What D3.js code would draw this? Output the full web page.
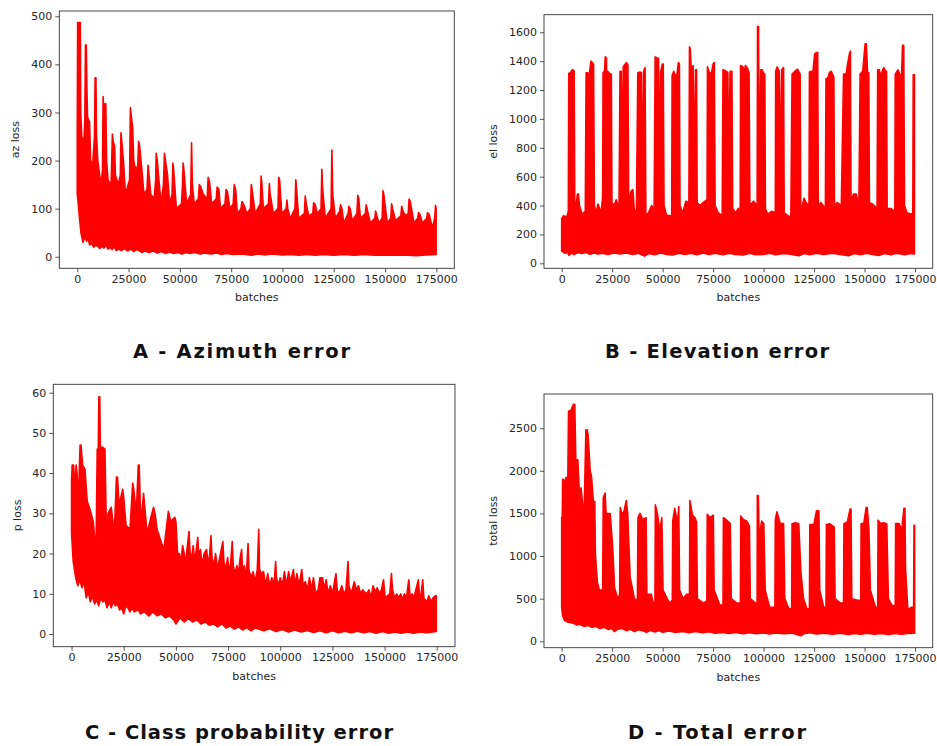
<!DOCTYPE html>
<html>
<head>
<meta charset="utf-8">
<script src="https://cdn.jsdelivr.net/npm/d3@7"></script>
<style>
  body { margin: 0; background: #fff; }
  svg { display: block; }
</style>
</head>
<body>
<svg id="fig" width="937" height="746"></svg>
<script>
// upper / lower envelopes of each noisy loss curve, [batch, loss]
var azHi = [[0,255],[200,487],[1500,487],[1700,300],[2200,250],[3300,240],[3700,290],[4000,440],[4400,440],[4700,350],[5000,290],[6000,280],[6500,200],[7500,190],[8400,250],[8700,372],[9100,372],[9400,250],[10000,200],[11500,150],[12300,180],[12600,333],[13000,300],[13500,318],[13900,318],[14300,200],[15000,160],[16500,150],[16800,200],[17100,255],[17500,240],[18200,230],[18600,170],[20000,150],[21000,170],[21300,258],[21700,240],[22500,200],[23500,130],[25500,160],[25900,310],[26400,290],[27000,270],[27500,200],[28500,180],[29500,190],[29900,240],[30400,230],[31500,180],[32500,130],[34000,140],[34500,190],[35000,170],[35800,130],[37500,120],[38200,160],[38500,215],[39000,200],[40000,150],[40800,110],[42000,150],[42500,215],[43000,200],[44000,170],[45000,110],[46200,130],[46600,195],[47000,180],[48300,100],[50800,110],[51300,150],[51600,195],[52000,180],[53300,110],[55300,130],[55700,237],[56100,150],[57000,110],[59000,120],[59500,150],[60200,145],[61400,130],[63300,120],[63800,165],[64500,155],[65500,110],[67700,120],[68200,145],[69000,140],[69800,100],[72000,110],[72500,140],[73200,135],[74400,100],[76000,110],[76500,150],[77200,140],[78000,90],[79800,100],[80300,115],[81500,105],[82600,90],[84400,100],[84800,150],[85200,140],[86700,90],[89200,110],[89600,168],[90000,150],[90700,100],[93200,110],[93600,152],[94000,130],[95600,90],[97800,100],[98200,165],[98600,160],[99700,90],[101800,100],[102200,118],[102600,100],[103800,80],[106100,100],[106500,160],[106900,140],[107900,80],[110700,90],[111100,126],[111600,110],[112800,85],[114800,90],[115200,112],[116000,108],[116900,90],[118800,100],[119200,182],[119600,140],[120900,80],[123700,100],[124100,222],[124500,130],[125800,80],[127900,95],[128300,108],[129000,100],[129900,70],[132000,90],[132400,105],[133000,100],[134000,75],[136300,90],[136700,128],[137200,120],[138000,80],[140400,90],[140800,108],[141500,95],[142900,70],[145000,80],[145400,95],[146000,85],[147000,70],[148600,80],[149000,137],[149400,130],[151100,70],[152800,80],[153200,110],[153700,100],[155100,75],[157700,85],[158100,105],[158700,95],[160100,85],[161300,90],[161700,120],[162300,115],[164100,70],[165900,80],[166300,92],[167000,88],[168200,70],[170300,80],[170700,92],[171500,88],[173100,60],[174200,80],[174600,107],[174900,100]];
var azLo = [[0,130],[500,110],[1000,85],[1800,50],[2800,30],[3500,38],[4000,40],[4600,32],[5000,45],[6000,25],[7000,28],[8000,20],[9000,24],[10000,22],[11000,17],[12000,22],[13000,18],[14000,24],[15000,16],[16000,20],[17000,15],[18000,21],[19000,13],[20000,16],[21500,13],[23000,17],[24500,12],[26000,16],[27500,11],[29000,15],[30000,13],[31500,9],[33000,12],[35000,9],[37000,12],[39000,8],[41000,11],[43000,7],[45000,10],[47000,7],[49000,9],[51000,6],[53000,9],[55000,7],[57000,9],[60000,6],[62000,8],[65000,6],[68000,8],[70000,5],[73000,7],[76000,5],[80000,6],[85000,3],[88000,6],[91000,4],[95000,6],[100000,4],[104000,5],[108000,3],[112000,5],[116000,3],[120000,5],[125000,3],[130000,5],[135000,3],[140000,5],[145000,3],[150000,4],[155000,3],[160000,4],[165000,2],[170000,4],[174900,5]];

var elHi = [[0,310],[1000,330],[2500,320],[3300,360],[3500,1315],[4300,1320],[5200,1340],[5600,1340],[6200,1330],[6500,400],[7300,420],[7800,480],[8300,480],[8800,400],[10000,340],[11700,360],[12100,1320],[12900,1320],[13300,500],[13700,1310],[14500,1400],[15200,1390],[15800,1380],[16200,400],[17000,350],[18000,410],[19500,350],[20300,460],[20500,1320],[21200,1330],[21600,1430],[22200,1420],[22500,600],[22800,1330],[24000,1310],[24600,1310],[24900,420],[26000,400],[27000,440],[28400,380],[28900,1330],[29500,1330],[30000,600],[30500,1360],[31500,1380],[32000,1390],[32800,1375],[33200,420],[34400,500],[35300,510],[35900,380],[37000,330],[37700,1320],[38800,1325],[39500,1320],[40200,500],[40600,1330],[41300,1355],[41700,330],[43000,350],[44500,400],[45800,380],[46300,1430],[47400,1420],[48000,1420],[48500,420],[49000,1320],[49800,1380],[50300,1380],[50700,400],[52000,330],[54500,330],[54700,1300],[55500,1330],[56300,1300],[57000,1295],[57800,1390],[58300,1380],[58600,400],[60000,350],[61500,430],[63000,420],[63300,1500],[63700,1480],[64200,1330],[65100,1370],[65600,600],[66300,1340],[66800,1340],[67100,420],[68500,400],[70000,420],[72000,440],[72200,1360],[73200,1320],[74200,1320],[75000,1380],[75600,1390],[76000,400],[77500,350],[79500,330],[79900,1340],[81000,1335],[82300,1320],[82700,600],[83400,1330],[84300,1330],[84700,380],[86000,350],[87500,380],[88400,350],[88600,1370],[89800,1360],[90400,1320],[91000,1370],[92000,1350],[92800,1320],[93200,400],[95000,430],[96800,400],[97000,1640],[97500,1640],[97900,400],[98600,1340],[99300,1340],[99900,1320],[100600,1310],[100900,380],[102000,340],[104000,360],[105800,350],[106000,1330],[106700,1360],[107800,1330],[108500,600],[109000,1340],[109900,1355],[110200,350],[112000,330],[113500,320],[114100,1310],[115500,1330],[116800,1345],[117700,1320],[118100,1310],[118400,350],[120000,450],[121000,420],[122500,400],[122700,1325],[123700,1330],[124400,1320],[125300,1450],[126300,1460],[126800,1460],[127100,400],[128500,420],[130600,380],[130900,1280],[131700,1280],[132600,1320],[133500,1330],[134800,1290],[135100,400],[136500,420],[138500,400],[139600,1310],[140900,1310],[141500,1370],[142500,1450],[143000,1470],[143300,420],[144500,480],[145800,480],[147200,400],[147800,1310],[149100,1330],[150300,1520],[150900,1520],[151500,1320],[152100,1320],[152400,420],[154000,410],[156200,380],[156500,1340],[157300,1340],[158000,1300],[159500,1355],[160400,1330],[160900,1330],[161200,380],[163000,380],[165000,360],[165200,1310],[166500,1340],[167800,1300],[168300,1280],[168800,1510],[169400,1510],[169800,400],[171000,350],[173000,340],[173900,350],[174100,1305],[174700,1305]];
var elLo = [[0,85],[1500,70],[3000,75],[3500,55],[5000,72],[6000,60],[8000,75],[10000,68],[12000,75],[14000,62],[16000,72],[18000,64],[20000,70],[23000,62],[26000,72],[29000,64],[32000,72],[35000,62],[38000,70],[41000,50],[43000,68],[46000,60],[49000,72],[52000,62],[55000,58],[58000,70],[61000,62],[64000,70],[67000,60],[70000,72],[73000,62],[76000,70],[80000,60],[83000,70],[86000,62],[90000,58],[93000,70],[96000,60],[100000,62],[103000,70],[106000,60],[110000,68],[114000,62],[117500,52],[120000,68],[123000,60],[126000,70],[130000,62],[134000,70],[138000,62],[142000,52],[145000,68],[148000,60],[151000,70],[154000,62],[157000,55],[160000,68],[163000,60],[166000,70],[170000,60],[172500,68],[174700,65]];

var pHi = [[0,38],[300,42],[1000,42],[1600,36],[2200,42],[2600,40],[3300,34],[4100,47],[4500,47],[5300,42],[6400,41],[7500,33],[8800,31],[10400,28],[11700,20],[12300,46],[12800,46],[13100,59],[13500,59],[14000,37],[14500,46.5],[16000,46],[16700,25],[17500,30],[19000,31.5],[20500,25],[21500,39],[22000,39],[22800,32],[24500,36],[25000,34],[26100,27],[28000,26],[29300,37.5],[29800,36],[31000,30],[32000,42],[32400,42],[33200,27],[34500,35],[35000,32],[36200,25],[38000,29],[39300,31.5],[40000,30],[41000,26],[43500,22],[44000,20],[46400,30.5],[47500,28],[49500,29],[50000,28],[50800,20],[51700,20],[52500,18],[53200,22],[54000,20],[54600,17],[55300,21],[56300,25.5],[56800,20],[57500,19],[58300,22],[59000,18],[60500,24],[61000,19],[61800,21],[62500,17],[63500,20],[64700,21],[65500,17],[66200,20],[66800,24.5],[67300,19],[68200,17],[69000,20],[70000,16],[71000,19],[72500,23],[73000,18],[73800,16],[74800,19],[75500,15],[76300,18],[77000,23],[77500,17],[78300,15],[79200,17],[80000,15],[80800,19],[81500,21],[82000,15],[82800,17],[83700,14],[84600,22.5],[85000,16],[86000,14],[87000,15.5],[88000,13],[89000,16],[89700,26],[90100,16],[91000,15],[92000,15.5],[93000,12],[94000,15],[95000,12],[96000,14],[97000,12],[97800,18],[98200,14],[99000,12],[100000,14],[101000,12],[102000,15.5],[103000,12],[104000,15.5],[105000,13],[106300,16],[107000,12],[108000,15],[109000,12],[110300,16],[111000,12],[112000,13],[113000,11],[114000,14],[115000,11],[115900,14],[117000,10],[118200,11],[119000,14],[120300,14],[121000,11],[122000,13.5],[123000,10],[124000,12],[125000,10],[126700,15],[127300,11],[128200,10],[129500,12],[130500,10],[131500,11],[132500,18],[132900,12],[134000,10],[135500,13],[136500,11],[137500,12],[138500,10],[139500,11],[140300,10.5],[141500,10],[142500,11],[143500,9],[144500,12],[145500,10.5],[146500,11.5],[147500,10],[148500,11],[149500,13.5],[150300,9],[151400,9.5],[152500,10],[153300,15],[153800,11],[154800,9],[155800,10],[156800,9],[157700,10],[158600,8.5],[159500,10],[160500,9],[161600,13.5],[162300,9],[163200,10],[164000,9],[165000,11],[166200,13.5],[166800,9],[167500,10],[168300,13.5],[168800,9],[169500,8.5],[170300,8],[171200,9.5],[172200,8],[173200,9],[174300,9.5],[174800,9.5]];
var pLo = [[0,25],[800,18],[2000,14],[3000,12],[4000,13.5],[5000,11.5],[6000,13],[7000,9],[8000,10.5],[9000,8],[10000,9.5],[11000,7.5],[12000,8.5],[13000,7],[14000,9],[15000,8],[16000,8.5],[17000,6.5],[18000,8],[19000,6.5],[20000,8],[21000,7],[22000,7.5],[23000,6],[24000,6.5],[25000,5],[26000,7],[27000,6.5],[28000,5.5],[29000,6.5],[30000,5.5],[32000,6],[33000,5],[35000,5.5],[37000,4.5],[39000,5.5],[41000,4.5],[43000,5],[45000,4],[47000,4.5],[49000,3.5],[50000,2.5],[52000,4],[54000,3],[56000,3.8],[58000,3],[60000,3.5],[62000,2.5],[64000,3],[66000,2.2],[68000,2.5],[70000,1.8],[72000,2.5],[74000,1.5],[76000,2],[78000,1.2],[80000,1.8],[82000,1],[84000,1.6],[86000,0.8],[88000,1.5],[90000,1.2],[92000,0.8],[95000,1.3],[98000,0.6],[101000,1.1],[104000,0.5],[107000,1],[110000,0.5],[113000,0.9],[116000,0.4],[119000,0.8],[122000,0.3],[125000,0.8],[128000,0.3],[131000,0.7],[134000,0.3],[137000,0.7],[140000,0.3],[143000,0.6],[146000,0.2],[149000,0.6],[152000,0.2],[155000,0.5],[158000,0.2],[161000,0.5],[164000,0.2],[167000,0.5],[170000,0.3],[174800,0.6]];

var totHi = [[0,1450],[300,1460],[500,1900],[1000,1900],[1300,1780],[2100,1920],[2500,1920],[2800,1350],[3400,2700],[4600,2710],[5800,2780],[6500,2780],[7000,2130],[8000,2130],[8800,1720],[9600,1800],[10400,1600],[11200,1590],[12000,2480],[12600,2480],[13100,2420],[14100,2000],[14800,1930],[15700,1640],[16400,1640],[16700,1020],[17700,690],[18700,600],[20300,600],[20600,1680],[21500,1740],[22000,1500],[24000,1500],[25200,1130],[26200,630],[27700,500],[28700,550],[29000,1570],[29800,1500],[30700,1510],[32000,1650],[32700,1500],[33900,750],[35200,600],[36000,500],[37500,480],[37800,1450],[38800,1500],[40100,1430],[41800,1450],[42200,550],[44400,550],[45300,450],[46200,450],[46400,1600],[47400,1500],[48600,1300],[49600,1450],[50200,600],[52200,500],[53500,450],[54800,480],[55000,1410],[56000,1560],[57400,1380],[58000,1580],[58400,600],[60100,500],[61800,550],[63300,550],[63500,1650],[64800,1480],[66000,1450],[66800,1400],[67200,500],[70000,450],[71900,470],[72100,1490],[73400,1450],[75100,1480],[75500,600],[78400,420],[79900,430],[80100,1450],[81800,1420],[83500,1380],[84000,500],[86500,450],[88500,450],[88700,1470],[90000,1430],[91700,1410],[93000,1350],[93400,500],[95900,450],[96800,450],[96900,1710],[97400,1710],[97800,1200],[99000,1410],[100100,1380],[100800,600],[103000,400],[105600,400],[105800,1420],[106600,1520],[108300,1380],[109900,1380],[110500,500],[112500,380],[113900,380],[114100,1380],[115700,1390],[117400,1380],[118500,800],[119800,500],[121500,380],[122700,380],[122900,1370],[124900,1370],[126200,1530],[127400,1530],[127800,600],[129800,400],[130900,400],[131100,1370],[132700,1380],[133900,1360],[135000,1340],[135400,500],[137800,450],[139600,450],[139800,1380],[141500,1400],[142800,1550],[143300,1550],[143700,500],[146500,480],[148100,480],[148300,1380],[149600,1380],[150800,1570],[151300,1570],[152100,1350],[152900,600],[155400,400],[156500,400],[156700,1420],[158000,1380],[159300,1390],[161000,1380],[161800,500],[163600,420],[165200,420],[165400,1380],[167100,1380],[168400,1300],[169500,1560],[170000,1560],[170300,850],[171400,380],[173500,400],[174300,400],[174500,1360],[174800,1360]];
var totLo = [[0,400],[500,300],[1300,250],[2500,230],[4000,220],[6000,210],[7500,190],[9000,200],[11000,175],[13000,185],[15000,165],[17000,175],[19000,150],[21000,165],[23000,140],[25000,150],[26000,115],[28000,145],[30000,150],[32000,125],[34000,140],[36000,115],[38000,135],[40000,125],[42000,105],[44000,130],[46000,110],[48000,125],[50000,105],[53000,120],[56000,105],[60000,115],[63000,100],[66000,115],[70000,100],[73000,112],[76000,95],[80000,105],[83000,92],[86000,105],[90000,90],[93000,102],[96000,88],[100000,98],[103000,85],[106000,98],[110000,88],[114000,96],[118500,65],[120000,90],[123000,100],[126000,85],[130000,95],[134000,82],[138000,95],[142000,80],[145000,92],[148000,82],[151000,95],[155000,82],[158000,92],[162000,80],[165000,92],[168000,82],[171000,92],[174800,95]];

var xTicks = [0, 25000, 50000, 75000, 100000, 125000, 150000, 175000];
var azTicks = [0, 100, 200, 300, 400, 500];
var elTicks = [0, 200, 400, 600, 800, 1000, 1200, 1400, 1600];
var pTicks = [0, 10, 20, 30, 40, 50, 60];
var totTicks = [0, 500, 1000, 1500, 2000, 2500];

var yLabels = ["az loss", "el loss", "p loss", "total loss"];
var titles = ["A - Azimuth error", "B - Elevation error", "C - Class probability error", "D - Total error"];

// layout: axes box [left, top, right, bottom], y view range, title placement
var panels = [
  { hi: azHi,  lo: azLo,  ticks: azTicks,  box: [59.3, 11, 454.3, 268.3],   yDom: [-24, 511],      tx: 241.5, ty: 358, tw: 217, lx: 15 },
  { hi: elHi,  lo: elLo,  ticks: elTicks,  box: [544, 14.7, 932.7, 268.3],  yDom: [-34.6, 1721.6], tx: 717,   ty: 358, tw: 224, lx: 493.3 },
  { hi: pHi,   lo: pLo,   ticks: pTicks,   box: [53.3, 384.3, 455, 646.7],  yDom: [-3.16, 62.08],  tx: 239,   ty: 739, tw: 308, lx: 16.7 },
  { hi: totHi, lo: totLo, ticks: totTicks, box: [544, 394, 932.7, 647.7],   yDom: [-75.2, 2901],   tx: 717,   ty: 739, tw: 178, lx: 493.3 }
];

var svg = d3.select("#fig");
var FONT = "DejaVu Sans, sans-serif";
var INK = "#262626";

panels.forEach(function (p, i) {
  var L = p.box[0], T = p.box[1], R = p.box[2], B = p.box[3];
  var x = d3.scaleLinear().domain([-8750, 183750]).range([L, R]);
  var y = d3.scaleLinear().domain(p.yDom).range([B, T]);

  svg.append("clipPath").attr("id", "clip" + i)
    .append("rect").attr("x", L).attr("y", T).attr("width", R - L).attr("height", B - T);

  // noisy band: upper envelope left->right then lower envelope back
  var ring = p.hi.concat(p.lo.slice().reverse());
  var line = d3.line().x(function (d) { return x(d[0]); }).y(function (d) { return y(d[1]); });
  svg.append("path")
    .attr("clip-path", "url(#clip" + i + ")")
    .attr("d", line(ring) + "Z")
    .attr("fill", "#ff0000").attr("stroke", "#ff0000")
    .attr("stroke-width", 1.6).attr("stroke-linejoin", "round");

  var gx = svg.append("g").attr("transform", "translate(0," + B + ")")
    .call(d3.axisBottom(x).tickValues(xTicks).tickSize(4).tickPadding(3).tickFormat(d3.format("d")));
  var gy = svg.append("g").attr("transform", "translate(" + L + ",0)")
    .call(d3.axisLeft(y).tickValues(p.ticks).tickSize(4).tickPadding(3).tickFormat(d3.format("d")));
  [gx, gy].forEach(function (g) {
    g.select(".domain").remove();
    g.selectAll("line").attr("stroke", INK).attr("stroke-width", 0.8);
    g.selectAll("text").attr("fill", INK).style("font-family", FONT).style("font-size", "11px");
  });

  svg.append("rect").attr("x", L).attr("y", T).attr("width", R - L).attr("height", B - T)
    .attr("fill", "none").attr("stroke", "#333").attr("stroke-width", 0.9);

  svg.append("text").attr("x", (L + R) / 2).attr("y", B + 33)
    .attr("text-anchor", "middle").attr("fill", INK)
    .style("font-family", FONT).style("font-size", "11px").text("batches");
  svg.append("text")
    .attr("transform", "translate(" + (p.lx + 4) + "," + ((T + B) / 2) + ") rotate(-90)")
    .attr("text-anchor", "middle").attr("fill", INK)
    .style("font-family", FONT).style("font-size", "11px").text(yLabels[i]);

  svg.append("text").attr("x", p.tx - p.tw / 2).attr("y", p.ty)
    .attr("textLength", p.tw).attr("lengthAdjust", "spacing")
    .attr("fill", "#111").style("font-family", FONT).style("font-weight", "bold")
    .style("font-size", "19.5px").text(titles[i]);
});
</script>
</body>
</html>
